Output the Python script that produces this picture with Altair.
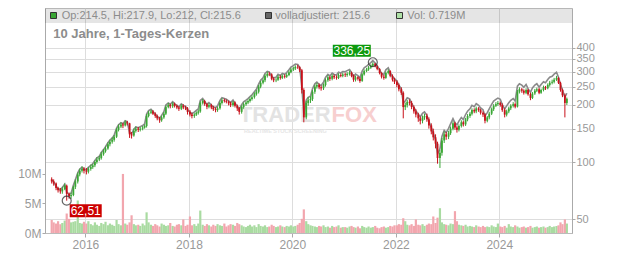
import altair as alt
import pandas as pd

# ---- half-monthly candles ----
close_2015 = [79, 77, 73, 71, 70, 72, 75, 68, 66, 67, 74, 79, 86, 90, 92, 90]
high_2015 = [83, 81, 78, 74, 73, 74, 77, 76, 69, 69, 75, 81, 88, 92, 95, 94]
low_2015 = [77, 75, 71, 69, 68, 68, 71, 62.51, 64, 64, 66, 72, 77, 84, 88, 87]

close_2016 = [89, 92, 94, 96, 100, 103, 105, 110, 114, 118, 124, 128, 131, 136, 148, 154, 158, 156, 162, 160, 140, 138, 146, 150]
high_2016 = [93, 94, 97, 98, 102, 106, 108, 113, 117, 121, 127, 131, 135, 139, 151, 158, 162, 161, 166, 165, 161, 144, 150, 154]
low_2016 = [86, 87, 90, 92, 94, 98, 101, 103, 108, 112, 116, 121, 125, 128, 134, 145, 151, 151, 154, 156, 134, 133, 136, 143]

close_2017 = [148, 150, 152, 155, 175, 182, 185, 180, 175, 170, 166, 172, 180, 195, 200, 197, 203, 198, 194, 191, 198, 194, 192, 184]
high_2017 = [153, 153, 155, 158, 179, 186, 189, 188, 183, 178, 173, 176, 184, 199, 205, 203, 207, 206, 201, 197, 202, 202, 198, 195]
low_2017 = [144, 145, 147, 150, 152, 172, 179, 177, 171, 166, 161, 163, 169, 177, 192, 192, 193, 194, 190, 186, 188, 190, 188, 178]

close_2018 = [178, 175, 178, 182, 185, 205, 210, 202, 196, 200, 194, 190, 188, 192, 205, 212, 210, 208, 204, 200, 206, 198, 192, 184]
high_2018 = [188, 182, 181, 185, 189, 209, 215, 213, 205, 204, 203, 198, 194, 196, 209, 217, 216, 214, 211, 208, 210, 209, 201, 195]
low_2018 = [174, 170, 171, 175, 178, 182, 201, 198, 190, 192, 190, 186, 183, 184, 189, 201, 206, 204, 199, 195, 196, 194, 186, 178]

close_2019 = [195, 202, 206, 210, 215, 220, 228, 235, 250, 262, 270, 285, 292, 290, 275, 270, 272, 282, 278, 285, 282, 288, 298, 308]
high_2019 = [199, 206, 210, 214, 219, 225, 233, 240, 255, 268, 276, 291, 300, 298, 294, 280, 277, 288, 287, 290, 290, 294, 304, 314]
low_2019 = [180, 191, 198, 202, 206, 211, 216, 224, 230, 245, 257, 264, 279, 284, 270, 264, 264, 268, 272, 274, 276, 278, 284, 294]

close_2020 = [312, 318, 316, 305, 240, 172, 205, 212, 215, 235, 250, 255, 248, 245, 255, 270, 280, 275, 285, 280, 278, 288, 285, 290]
high_2020 = [318, 324, 326, 320, 310, 245, 210, 220, 222, 240, 256, 262, 260, 253, 260, 276, 287, 284, 291, 290, 286, 294, 293, 296]
low_2020 = [302, 306, 310, 298, 230, 162, 168, 198, 205, 210, 229, 244, 242, 238, 240, 250, 265, 268, 270, 274, 272, 274, 280, 280]

close_2021 = [288, 292, 296, 285, 272, 280, 275, 268, 290, 302, 308, 315, 322, 330, 320, 310, 295, 282, 278, 295, 302, 285, 272, 265]
high_2021 = [296, 298, 303, 300, 290, 286, 284, 280, 294, 308, 314, 321, 328, 336.25, 333, 324, 313, 298, 288, 300, 308, 305, 290, 278]
low_2021 = [281, 282, 286, 280, 265, 266, 269, 262, 265, 286, 298, 303, 310, 318, 316, 305, 290, 276, 272, 275, 290, 280, 266, 258]

close_2022 = [255, 242, 232, 195, 200, 208, 205, 195, 185, 178, 170, 165, 172, 175, 168, 156, 145, 135, 125, 105, 112, 130, 140, 136]
high_2022 = [270, 260, 248, 236, 206, 213, 214, 210, 199, 190, 182, 174, 176, 180, 180, 172, 160, 150, 140, 128, 116, 134, 145, 144]
low_2022 = [248, 236, 226, 170, 188, 194, 199, 190, 180, 172, 163, 158, 160, 167, 163, 150, 140, 130, 118, 98, 93, 108, 126, 131]

close_2023 = [142, 150, 160, 152, 148, 155, 162, 158, 168, 175, 180, 188, 185, 192, 188, 182, 178, 165, 172, 180, 190, 198, 202, 205]
high_2023 = [146, 154, 164, 163, 155, 158, 166, 165, 171, 179, 184, 192, 192, 196, 195, 191, 185, 181, 175, 184, 194, 202, 207, 210]
low_2023 = [132, 139, 147, 148, 143, 145, 152, 154, 155, 164, 171, 176, 181, 181, 184, 178, 173, 160, 162, 168, 177, 186, 195, 198]

close_2024 = [200, 188, 178, 185, 192, 198, 202, 196, 235, 242, 238, 232, 240, 228, 218, 230, 238, 242, 232, 240, 248, 245, 255, 262]
high_2024 = [208, 204, 192, 189, 196, 202, 207, 206, 240, 248, 246, 242, 245, 243, 232, 234, 243, 247, 246, 244, 253, 252, 260, 268]
low_2024 = [196, 184, 172, 174, 181, 188, 194, 192, 194, 230, 232, 227, 228, 224, 212, 215, 226, 234, 228, 229, 236, 240, 242, 250]

close_2025 = [265, 272, 278, 262, 240, 225, 205, 215.6]
high_2025 = [272, 278, 285, 280, 265, 244, 230, 219]
low_2025 = [257, 260, 268, 258, 235, 220, 172, 200]

first_open = 81

# volume (million shares, visible daily peak in each half month)
vol_2015 = [2.2, 1.8, 1.6, 2.0, 1.5, 1.7, 2.1, 3.3, 2.4, 1.8, 1.9, 2.0, 5.5, 1.7, 1.6, 1.9]
vol_2016 = [1.6, 2.0, 1.5, 1.3, 1.8, 1.4, 1.2, 1.7, 1.5, 1.9, 1.3, 1.6, 1.4, 1.2, 2.2, 1.5, 1.3, 10.0, 1.6, 1.4, 1.8, 3.0, 1.5, 1.3]
vol_2017 = [1.4, 1.2, 1.6, 1.3, 3.5, 1.8, 1.4, 1.2, 1.5, 1.3, 1.1, 1.6, 1.4, 1.2, 1.3, 1.7, 1.2, 1.1, 1.4, 1.5, 1.3, 2.3, 1.2, 1.4]
vol_2018 = [2.8, 1.3, 1.5, 1.2, 1.6, 3.8, 1.4, 1.2, 1.5, 1.3, 1.1, 1.4, 1.2, 1.5, 1.3, 1.2, 1.6, 1.1, 1.3, 1.5, 1.4, 1.2, 1.7, 1.5]
vol_2019 = [1.3, 1.1, 1.0, 1.2, 1.4, 1.1, 1.3, 1.0, 1.5, 1.2, 1.1, 1.3, 1.0, 1.1, 1.4, 1.2, 1.0, 1.1, 1.3, 1.1, 1.0, 1.2, 1.1, 1.3]
vol_2020 = [1.1, 1.2, 1.4, 1.7, 2.4, 4.0, 2.0, 1.5, 1.3, 1.2, 1.1, 1.0, 1.2, 1.1, 1.3, 1.0, 1.1, 0.9, 1.2, 1.0, 1.1, 1.3, 0.9, 1.0]
vol_2021 = [1.0, 0.9, 1.1, 1.2, 1.0, 0.9, 1.1, 0.8, 1.2, 1.0, 0.9, 1.1, 0.9, 1.0, 1.2, 0.9, 0.8, 1.0, 1.1, 0.9, 1.0, 1.2, 1.1, 1.3]
vol_2022 = [1.3, 1.5, 1.4, 2.5, 2.0, 1.4, 1.3, 1.5, 1.2, 2.3, 1.4, 1.3, 1.5, 1.2, 1.4, 1.6, 1.5, 2.8, 1.7, 2.6, 4.2, 1.8, 1.5, 1.4]
vol_2023 = [1.3, 1.6, 1.5, 3.7, 2.0, 1.4, 1.3, 1.2, 1.4, 1.1, 1.2, 1.1, 1.0, 1.3, 1.1, 1.0, 1.2, 1.0, 1.1, 1.0, 1.3, 1.1, 1.0, 1.6]
vol_2024 = [1.1, 1.0, 1.2, 0.9, 1.5, 1.1, 1.0, 1.3, 1.1, 0.9, 1.0, 1.1, 0.9, 1.0, 1.2, 0.9, 1.0, 1.1, 0.9, 1.0, 1.1, 0.9, 1.0, 1.2]
vol_2025 = [1.0, 1.1, 1.2, 1.3, 1.8, 1.5, 2.3, 1.6]

# ratio of the grey "volladjustiert" line to the close, per year 2015..2025
adj_years = [2015, 2016, 2017, 2018, 2019, 2020, 2021, 2022, 2023, 2024, 2025]
adj_factor = [1.02, 1.02, 1.025, 1.03, 1.03, 1.035, 1.04, 1.05, 1.06, 1.07, 1.07]

year_ticks = [2016, 2018, 2020, 2022, 2024]
price_ticks = [50, 100, 150, 200, 250, 300, 350, 400]
vol_ticks = [0, 5, 10]

legend_ohlc = "Op:214.5, Hi:217.9, Lo:212, Cl:215.6"
legend_adj = "volladjustiert: 215.6"
legend_vol = "Vol: 0.719M"
title_text = "10 Jahre, 1-Tages-Kerzen"

# ---- assemble ----
closes = sum([close_2015, close_2016, close_2017, close_2018, close_2019, close_2020,
              close_2021, close_2022, close_2023, close_2024, close_2025], [])
highs = sum([high_2015, high_2016, high_2017, high_2018, high_2019, high_2020,
             high_2021, high_2022, high_2023, high_2024, high_2025], [])
lows = sum([low_2015, low_2016, low_2017, low_2018, low_2019, low_2020,
            low_2021, low_2022, low_2023, low_2024, low_2025], [])
vols = sum([vol_2015, vol_2016, vol_2017, vol_2018, vol_2019, vol_2020,
            vol_2021, vol_2022, vol_2023, vol_2024, vol_2025], [])
n = len(closes)
dates = pd.date_range("2015-05-01", periods=n, freq="SMS") + pd.Timedelta(days=7)
opens = [first_open] + closes[:-1]

df = pd.DataFrame({
    "date": dates.strftime("%Y-%m-%dT00:00:00"),
    "open": opens,
    "close": closes,
    "high": [max(h, o, c) for h, o, c in zip(highs, opens, closes)],
    "low": [min(l, o, c) for l, o, c in zip(lows, opens, closes)],
    "vol": vols,
})
fac = dict(zip(adj_years, adj_factor))
df["adj"] = [c * fac[d.year] for c, d in zip(closes, dates)]
df["dir"] = ["up" if c >= o else "down" for o, c in zip(opens, closes)]

W, H = 527, 225
FONT = "Liberation Sans"
GREEN, RED = "#3aa635", "#c8101a"
VGREEN, VRED = "#a9dba1", "#f2a6ae"

x_enc = alt.X("date:T", title=None,
              scale=alt.Scale(domain=[alt.DateTime(year=2015, month=4, date=26),
                                      alt.DateTime(year=2025, month=4, date=23)]),
              axis=alt.Axis(values=[alt.DateTime(year=y, month=1, date=1) for y in year_ticks],
                            format="%Y", grid=True, gridColor="#dddddd", tickSize=4,
                            tickColor="#aaaaaa", domainColor="#bbbbbb", labelColor="#999999",
                            labelFontSize=12, labelPadding=2, labelFont=FONT))

pscale = alt.Scale(type="log", domain=[42.2, 650], nice=False)
paxis = alt.Axis(orient="right", values=price_ticks, format="d", grid=True, gridColor="#dddddd",
                 tickSize=3, tickColor="#aaaaaa", domainColor="#aaaaaa", labelColor="#999999",
                 labelFontSize=11, labelPadding=1, labelFont=FONT, title=None,
                 labelOverlap=False, labelBound=False)

base = alt.Chart(df)

volume = base.mark_bar(size=2.2).encode(
    x=x_enc,
    y=alt.Y("vol:Q", scale=alt.Scale(domain=[0, 38.1], nice=False),
            axis=alt.Axis(orient="left", values=vol_ticks, labelExpr="datum.value + 'M'",
                          grid=False, tickSize=3, tickColor="#aaaaaa", domainColor="#aaaaaa",
                          labelColor="#999999", labelFontSize=12, labelPadding=1,
                          labelFont=FONT, title=None, labelOverlap=False)),
    color=alt.Color("dir:N", scale=alt.Scale(domain=["up", "down"], range=[VGREEN, VRED]),
                    legend=None),
)

wm = pd.DataFrame({"date": ["2020-09-27T00:00:00"], "p": [176.0],
                   "sub_date": ["2019-11-13T00:00:00"], "sub_p": [145.0]})
wm_trader = alt.Chart(wm).mark_text(text="TRADER", align="right", baseline="middle",
                                    fontSize=22, fontWeight="bold", color="#e3e3e3",
                                    font=FONT).encode(x="date:T", y=alt.Y("p:Q", scale=pscale))
wm_fox = alt.Chart(wm).mark_text(text="FOX", align="left", baseline="middle", dx=1,
                                 fontSize=22, fontWeight="bold", color="#f7cfcf",
                                 font=FONT).encode(x="date:T", y=alt.Y("p:Q", scale=pscale))
wm_sub = alt.Chart(wm).mark_text(text="REALTIME STOCK SCREENING", align="center",
                                 baseline="middle", fontSize=5.5, fontWeight="bold",
                                 color="#e6e6e6", font=FONT).encode(
    x="sub_date:T", y=alt.Y("sub_p:Q", scale=pscale))

adj_line = base.mark_line(color="#8a8a8a", strokeWidth=1.6).encode(
    x="date:T", y=alt.Y("adj:Q", scale=pscale, axis=paxis))

candle_color = alt.Color("dir:N", scale=alt.Scale(domain=["up", "down"], range=[GREEN, RED]),
                         legend=None)
wick = base.mark_rule(strokeWidth=1).encode(
    x="date:T", y=alt.Y("low:Q", scale=pscale), y2="high:Q", color=candle_color)
body = base.mark_bar(size=1.8).encode(
    x="date:T", y=alt.Y("open:Q", scale=pscale), y2="close:Q", color=candle_color)

i_hi = int(df["high"].idxmax())
i_lo = int(df["low"].idxmin())
ext = pd.DataFrame({
    "date": [df.loc[i_hi, "date"], df.loc[i_lo, "date"]],
    "p": [df.loc[i_hi, "high"], df.loc[i_lo, "low"]],
})
ext["label"] = [f"{v:.2f}".replace(".", ",") for v in ext["p"]]
hi_df = ext.iloc[[0]]
lo_df = ext.iloc[[1]]

circles = alt.Chart(ext).mark_point(shape="circle", size=80, filled=False, color="#222222",
                                    strokeWidth=1.2).encode(
    x="date:T", y=alt.Y("p:Q", scale=pscale))

hi_box = alt.Chart(hi_df).mark_rect(color="#0e9a0e", xOffset=-40, x2Offset=-2,
                                    yOffset=-17.5, y2Offset=-5.5).encode(
    x="date:T", x2="date:T", y=alt.Y("p:Q", scale=pscale), y2="p:Q")
hi_txt = alt.Chart(hi_df).mark_text(color="white", fontSize=12, dx=-21, dy=-11.5,
                                    align="center", baseline="middle", font=FONT).encode(
    x="date:T", y=alt.Y("p:Q", scale=pscale), text="label:N")
lo_box = alt.Chart(lo_df).mark_rect(color="#cc0000", xOffset=3, x2Offset=35,
                                    yOffset=3.5, y2Offset=16.5).encode(
    x="date:T", x2="date:T", y=alt.Y("p:Q", scale=pscale), y2="p:Q")
lo_txt = alt.Chart(lo_df).mark_text(color="white", fontSize=12, dx=19, dy=10,
                                    align="center", baseline="middle", font=FONT).encode(
    x="date:T", y=alt.Y("p:Q", scale=pscale), text="label:N")

price = alt.layer(wm_trader, wm_fox, wm_sub, adj_line, wick, body, circles,
                  hi_box, hi_txt, lo_box, lo_txt)

# ---- header strip (legend) and caption ----
one = pd.DataFrame({"k": [0]})
band = alt.Chart(one).mark_rect(color="#000000", opacity=0.1).encode(
    x=alt.value(0), x2=alt.value(W), y=alt.value(0), y2=alt.value(15))
sq1 = alt.Chart(one).mark_rect(color=GREEN, stroke="#333333", strokeWidth=1).encode(
    x=alt.value(5.5), x2=alt.value(11.5), y=alt.value(4.5), y2=alt.value(10.5))
sq2 = alt.Chart(one).mark_rect(color="#666666", stroke="#333333", strokeWidth=1).encode(
    x=alt.value(220.5), x2=alt.value(226.5), y=alt.value(4.5), y2=alt.value(10.5))
sq3 = alt.Chart(one).mark_rect(color="#aee0a6", stroke="#333333", strokeWidth=1).encode(
    x=alt.value(351.5), x2=alt.value(357.5), y=alt.value(4.5), y2=alt.value(10.5))


def label(txt, xpos, ypos, size=11, weight="normal", color="#8c8c8c"):
    return alt.Chart(one).mark_text(text=txt, align="left", baseline="middle", fontSize=size,
                                    fontWeight=weight, color=color, font=FONT).encode(
        x=alt.value(xpos), y=alt.value(ypos))


header = alt.layer(band, sq1, sq2, sq3,
                   label(legend_ohlc, 16.7, 7.8),
                   label(legend_adj, 230.3, 7.8),
                   label(legend_vol, 362.3, 7.8),
                   label(title_text, 8.3, 25.5, size=13, weight="bold", color="#8c8c8c"))

chart = alt.layer(volume, price, header).resolve_scale(
    y="independent", color="independent"
).properties(
    width=W, height=H,
    autosize=alt.AutoSizeParams(type="none"),
    padding={"left": 45, "top": 8, "right": 60, "bottom": 20},
).configure(font=FONT).configure_view(stroke="#cccccc")

chart.save("out.html", embed_options={"renderer": "svg", "actions": False})
